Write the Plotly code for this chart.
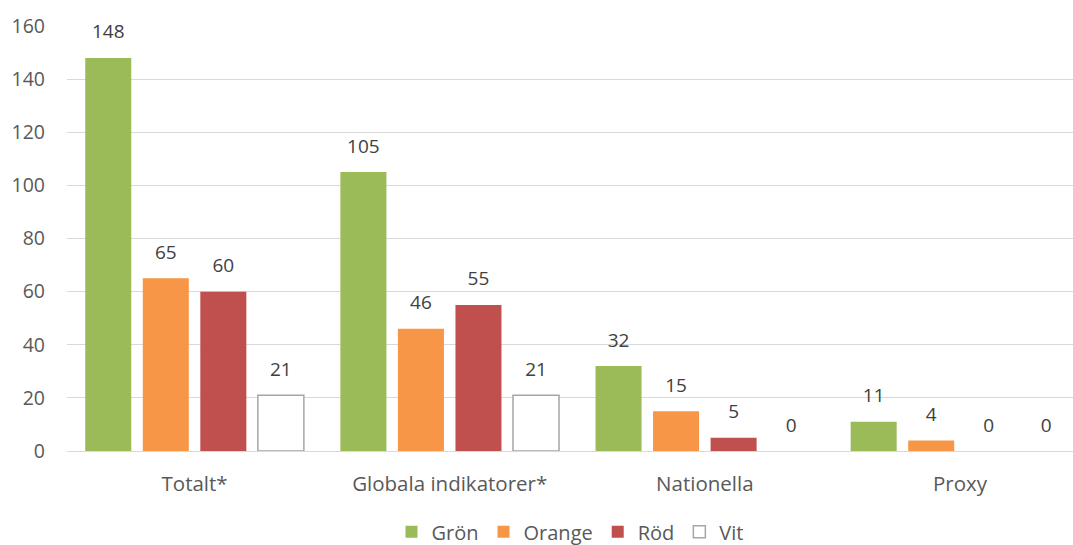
import plotly.graph_objects as go

categories = ["Totalt*", "Globala indikatorer*", "Nationella", "Proxy"]
gron = [148, 105, 32, 11]
orange = [65, 46, 15, 4]
rod = [60, 55, 5, 0]
vit = [21, 21, 0, 0]

series = [
    ("Grön", gron, "#9BBB59", "#9BBB59", 0),
    ("Orange", orange, "#F79646", "#F79646", 0),
    ("Röd", rod, "#C0504D", "#C0504D", 0),
    ("Vit", vit, "#FFFFFF", "#A6A6A6", 1.5),
]

font_family = "Open Sans, Liberation Sans, sans-serif"
bargap = 0.098

fig = go.Figure()
for name, vals, fill, line, lw in series:
    fig.add_trace(go.Bar(
        name=name, x=categories, y=vals,
        marker=dict(color=fill, line=dict(color=line, width=[lw if v > 0 else 0 for v in vals])),
        hoverinfo="x+y",
    ))
# data labels, aligned with the grouped bars
for name, vals, fill, line, lw in series:
    fig.add_trace(go.Scatter(
        x=categories, y=vals, mode="text+markers", showlegend=False,
        marker=dict(size=22, opacity=0),
        text=[str(v) for v in vals], textposition="top center",
        textfont=dict(size=19, color="#404040", family=font_family),
        cliponaxis=False, hoverinfo="skip",
    ))

fig.update_layout(
    width=1073, height=545,
    margin=dict(l=67, r=0, t=26, b=94, autoexpand=False),
    plot_bgcolor="white", paper_bgcolor="white",
    barmode="group", bargap=bargap, bargroupgap=0.2,
    scattermode="group", scattergap=bargap,
    font=dict(family=font_family, color="#595959", size=19),
    showlegend=True,
    legend=dict(orientation="h", x=0.5, xanchor="center", y=-0.19, yanchor="middle",
                font=dict(size=20, color="#595959"),
                traceorder="normal", tracegroupgap=0),
    xaxis=dict(range=[-0.5, 3.443], showgrid=False, showline=False, ticks="",
               automargin=False, ticklabelstandoff=18,
               tickfont=dict(size=20.5, color="#595959")),
    yaxis=dict(range=[0, 160], dtick=20, showgrid=True, gridcolor="#D9D9D9", gridwidth=1.2,
               zeroline=True, zerolinecolor="#D9D9D9", zerolinewidth=1.2,
               showline=False, ticks="", ticklabelstandoff=21, automargin=False,
               tickfont=dict(size=19.5, color="#595959")),
)

fig.write_html("out.html", config={"displayModeBar": False},
               post_script="document.body.style.margin='0';document.body.style.overflow='hidden';")
